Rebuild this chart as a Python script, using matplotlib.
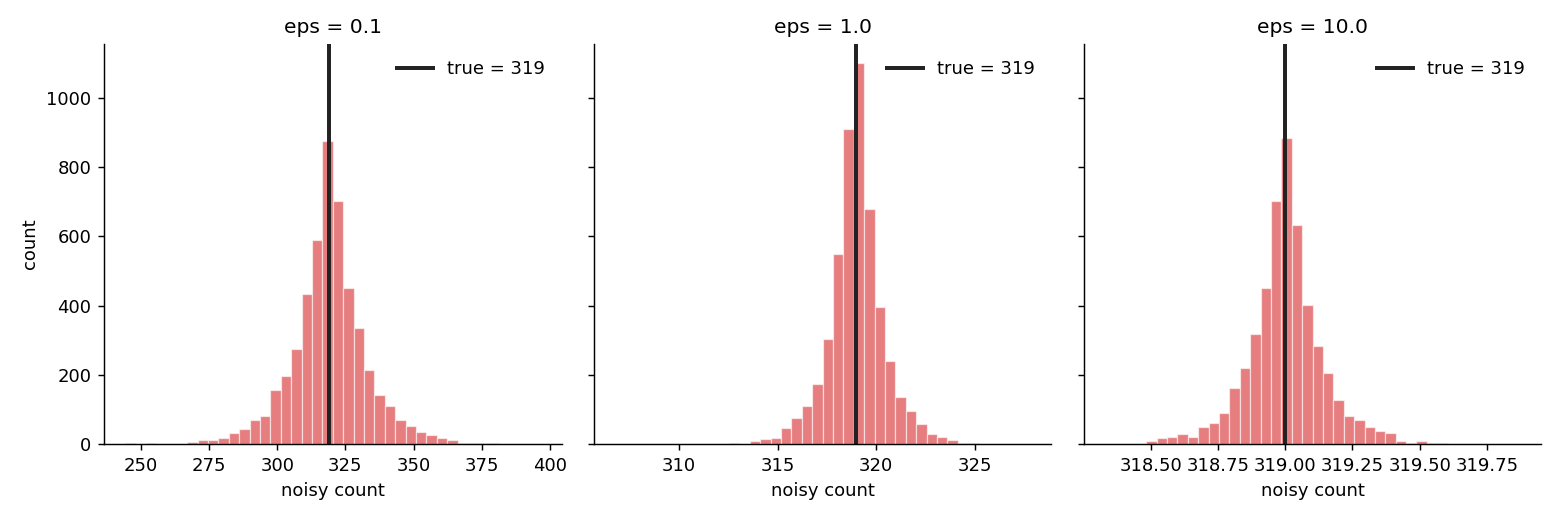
import matplotlib
matplotlib.use('Agg')
import matplotlib.pyplot as plt
import numpy as np

TRUE_COUNT = 319
eps_values = [0.1, 1.0, 10.0]

# sample range (min, max) of the noisy counts per epsilon, 40 equal bins
ranges = [(244.05, 396.7), (306.73, 327.84), (318.328, 319.875)]

counts_eps01 = [2, 0, 2, 0, 1, 1, 5, 11, 11, 17,
                33, 43, 70, 81, 156, 196, 274, 434, 590, 874,
                703, 451, 335, 214, 143, 111, 70, 52, 36, 26,
                17, 12, 4, 4, 2, 4, 0, 0, 0, 1]
counts_eps1 = [1, 0, 0, 0, 0, 0, 0, 0, 0, 0,
               1, 3, 1, 8, 14, 17, 46, 75, 110, 174,
               303, 550, 909, 1100, 680, 396, 240, 136, 96, 59,
               29, 20, 12, 4, 4, 0, 0, 0, 0, 1]
counts_eps10 = [1, 1, 1, 0, 8, 17, 20, 29, 20, 49,
                61, 90, 162, 219, 318, 451, 703, 885, 634, 402,
                283, 206, 128, 81, 70, 49, 38, 32, 9, 4,
                8, 3, 2, 0, 0, 0, 0, 0, 0, 1]
all_counts = [counts_eps01, counts_eps1, counts_eps10]

plt.rcParams['font.size'] = 10

fig, axes = plt.subplots(1, 3, figsize=(12, 4), dpi=130, sharey=True)
fig.subplots_adjust(left=0.0667, right=0.988, bottom=0.146, top=0.915,
                    wspace=0.0706)

for ax, eps, (lo, hi), counts in zip(axes, eps_values, ranges, all_counts):
    edges = np.linspace(lo, hi, len(counts) + 1)
    ax.bar(edges[:-1], counts, width=np.diff(edges), align='edge',
           color='tab:red', alpha=0.6, edgecolor='white', linewidth=0.7)
    ax.axvline(TRUE_COUNT, color='#222222', lw=2.2,
               label=f'true = {TRUE_COUNT}')
    ax.set_title(f'eps = {eps}', fontsize=11.2)
    ax.set_xlabel('noisy count')
    ax.legend(loc='upper right', frameon=False)
    ax.ticklabel_format(axis='x', useOffset=False)
    ax.spines['top'].set_visible(False)
    ax.spines['right'].set_visible(False)

axes[0].set_ylabel('count')
axes[0].set_yticks(np.arange(0, 1001, 200))

fig.savefig('out.png')
